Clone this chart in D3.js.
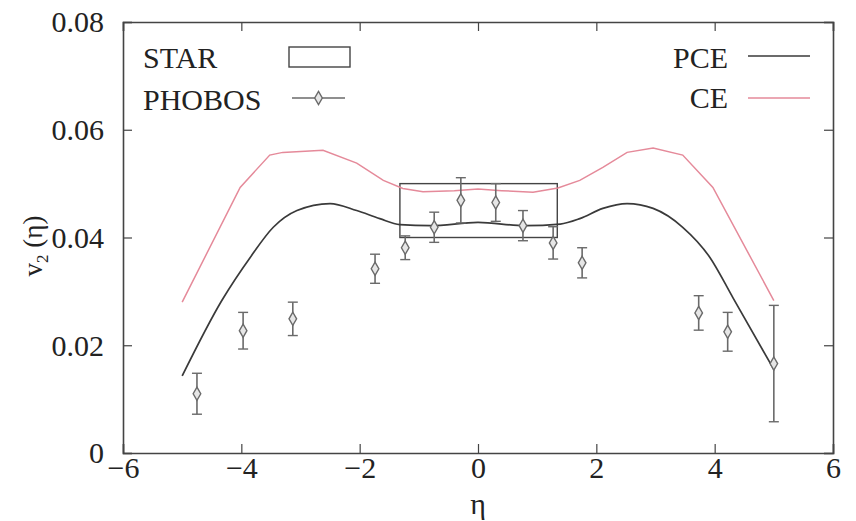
<!DOCTYPE html>
<html>
<head>
<meta charset="utf-8">
<script src="https://cdn.jsdelivr.net/npm/d3@7"></script>
<style>
  html, body { margin: 0; padding: 0; background: #fff; }
  svg { display: block; }
</style>
</head>
<body>
<svg id="chart" width="856" height="521"></svg>
<script>
// PHOBOS measurements: pseudorapidity, v2 and its error
const etaPhobos = [-4.75, -3.97, -3.13, -1.74, -1.23, -0.74, -0.29, 0.30, 0.76, 1.27, 1.76, 3.73, 4.22, 5.0];
const v2Phobos  = [0.0110, 0.0227, 0.0249, 0.0342, 0.0381, 0.0419, 0.0469, 0.0465, 0.0422, 0.0390, 0.0353, 0.0260, 0.0225, 0.0166];
const errPhobos = [0.0038, 0.0034, 0.0031, 0.0027, 0.0022, 0.0028, 0.0042, 0.0035, 0.0028, 0.0030, 0.0028, 0.0032, 0.0036, 0.0108];

// PCE model curve
const etaPCE = [-5, -4.33, -3.85, -3.46, -3.06, -2.5, -2.05, -1.66, -1.32, -0.8, 0, 0.8, 1.39, 1.72, 2.11, 2.52, 2.96, 3.46, 3.92, 4.31, 5];
const v2PCE  = [0.0143, 0.0283, 0.0363, 0.0419, 0.0450, 0.0463, 0.0450, 0.0435, 0.0424, 0.0422, 0.0428, 0.0422, 0.0425, 0.0435, 0.0454, 0.0463, 0.0454, 0.0419, 0.0363, 0.0288, 0.0155];

// CE model curve
const etaCE = [-5, -4.02, -3.52, -3.3, -2.62, -2.05, -1.6, -1.27, -0.93, -0.4, 0, 0.4, 0.93, 1.35, 1.72, 2.11, 2.52, 2.96, 3.46, 3.97, 5];
const v2CE  = [0.0280, 0.0493, 0.0553, 0.0558, 0.0562, 0.0538, 0.0506, 0.0491, 0.0485, 0.0487, 0.0490, 0.0487, 0.0484, 0.0492, 0.0506, 0.0530, 0.0558, 0.0566, 0.0553, 0.0493, 0.0283];

// STAR band: eta range and v2 range
const starEta = [-1.32, 1.34];
const starV2  = [0.040, 0.050];

// Axis ticks
const xTicks = [-6, -4, -2, 0, 2, 4, 6];
const yTicks = [0, 0.02, 0.04, 0.06, 0.08];
const yTickLabels = ["0", "0.02", "0.04", "0.06", "0.08"];

const serif = "Liberation Serif";
const svg = d3.select("#chart").style("font-family", serif);
const plotLeft = 123, plotRight = 833, plotTop = 22, plotBottom = 453;

const x = d3.scaleLinear().domain([-6, 6]).range([plotLeft, plotRight]);
const y = d3.scaleLinear().domain([0, 0.08]).range([plotBottom, plotTop]);

const axisColor = "#444";
const tickLen = 9;

// Axes with inward ticks on all four sides
const fmtX = d => d < 0 ? "\u2212" + Math.abs(d) : String(d);
const gB = svg.append("g").attr("transform", `translate(0,${plotBottom})`)
  .call(d3.axisBottom(x).tickValues(xTicks).tickSize(-tickLen).tickPadding(25).tickFormat(fmtX));
const gT = svg.append("g").attr("transform", `translate(0,${plotTop})`)
  .call(d3.axisTop(x).tickValues(xTicks).tickSize(-tickLen).tickFormat(""));
const gL = svg.append("g").attr("transform", `translate(${plotLeft},0)`)
  .call(d3.axisLeft(y).tickValues(yTicks).tickSize(-tickLen).tickPadding(tickLen + 10).tickFormat((d, i) => yTickLabels[i]));
const gR = svg.append("g").attr("transform", `translate(${plotRight},0)`)
  .call(d3.axisRight(y).tickValues(yTicks).tickSize(-tickLen).tickFormat(""));

[gB, gT, gL, gR].forEach(g => {
  g.attr("font-family", null).style("font-family", serif);
  g.select(".domain").attr("stroke", axisColor).attr("stroke-width", 1.6);
  g.selectAll(".tick line").attr("stroke", axisColor).attr("stroke-width", 1.2);
  g.selectAll(".tick text").attr("font-size", 30).attr("fill", "#222")
    .style("font-family", serif);
});
gB.selectAll(".tick text").attr("dy", 0);
gL.selectAll(".tick text").attr("dy", "0.33em");

// Axis titles
const yTitle = svg.append("text")
  .attr("transform", "translate(42,246) rotate(-90)")
  .attr("text-anchor", "middle")
  .attr("font-size", 27).attr("fill", "#222")
  .style("font-family", serif);
yTitle.append("tspan").text("v");
yTitle.append("tspan").attr("font-size", 17).attr("dy", 6).text("2");
yTitle.append("tspan").attr("dy", -6).text(" (\u03b7)");

svg.append("text")
  .attr("x", x(0)).attr("y", 514)
  .attr("text-anchor", "middle")
  .attr("font-size", 30).attr("fill", "#222")
  .style("font-family", serif)
  .text("\u03b7");

// STAR band
svg.append("rect")
  .attr("x", x(starEta[0])).attr("y", y(starV2[1]))
  .attr("width", x(starEta[1]) - x(starEta[0]))
  .attr("height", y(starV2[0]) - y(starV2[1]))
  .attr("fill", "none").attr("stroke", "#444").attr("stroke-width", 1.4);

// Model curves
const lineCE = d3.line().x(d => x(d[0])).y(d => y(d[1])).curve(d3.curveLinear);
const linePCE = d3.line().x(d => x(d[0])).y(d => y(d[1])).curve(d3.curveMonotoneX);
svg.append("path")
  .datum(d3.zip(etaCE, v2CE))
  .attr("d", lineCE).attr("fill", "none")
  .attr("stroke", "#e58a9a").attr("stroke-width", 1.5);
svg.append("path")
  .datum(d3.zip(etaPCE, v2PCE))
  .attr("d", linePCE).attr("fill", "none")
  .attr("stroke", "#3a3a3a").attr("stroke-width", 1.7);

// PHOBOS points with error bars
const pts = d3.zip(etaPhobos, v2Phobos, errPhobos);
const pColor = "#6a6a6a";
const capW = 5;
const gP = svg.append("g");
const eb = gP.selectAll("g.pt").data(pts).join("g").attr("class", "pt");
eb.append("line")
  .attr("x1", d => x(d[0])).attr("x2", d => x(d[0]))
  .attr("y1", d => y(d[1] - d[2])).attr("y2", d => y(d[1] + d[2]))
  .attr("stroke", pColor).attr("stroke-width", 1.6);
eb.append("line")
  .attr("x1", d => x(d[0]) - capW).attr("x2", d => x(d[0]) + capW)
  .attr("y1", d => y(d[1] + d[2])).attr("y2", d => y(d[1] + d[2]))
  .attr("stroke", pColor).attr("stroke-width", 1.4);
eb.append("line")
  .attr("x1", d => x(d[0]) - capW).attr("x2", d => x(d[0]) + capW)
  .attr("y1", d => y(d[1] - d[2])).attr("y2", d => y(d[1] - d[2]))
  .attr("stroke", pColor).attr("stroke-width", 1.4);
const diamond = d3.symbol().type(d3.symbolDiamond).size(50);
eb.append("path")
  .attr("d", diamond)
  .attr("transform", d => `translate(${x(d[0])},${y(d[1])})`)
  .attr("fill", "#e6e6e6").attr("stroke", pColor).attr("stroke-width", 1.4);

// Legend
const leg = svg.append("g").attr("font-size", 30).attr("fill", "#222").style("font-family", serif);
leg.append("text").attr("x", 143).attr("y", 68).style("font-family", serif).text("STAR");
leg.append("rect").attr("x", 289).attr("y", 47).attr("width", 61).attr("height", 20)
  .attr("fill", "none").attr("stroke", "#444").attr("stroke-width", 1.4);

leg.append("text").attr("x", 143).attr("y", 110).style("font-family", serif).text("PHOBOS");
leg.append("line").attr("x1", 292).attr("x2", 345).attr("y1", 98).attr("y2", 98)
  .attr("stroke", pColor).attr("stroke-width", 1.6);
leg.append("line").attr("x1", 318.5).attr("x2", 318.5).attr("y1", 93).attr("y2", 103)
  .attr("stroke", pColor).attr("stroke-width", 1.4);
leg.append("path").attr("d", diamond).attr("transform", "translate(318.5,98)")
  .attr("fill", "#e6e6e6").attr("stroke", pColor).attr("stroke-width", 1.4);

leg.append("text").attr("x", 728).attr("y", 68).attr("text-anchor", "end").style("font-family", serif).text("PCE");
leg.append("line").attr("x1", 748).attr("x2", 810).attr("y1", 56).attr("y2", 56)
  .attr("stroke", "#3a3a3a").attr("stroke-width", 1.7);

leg.append("text").attr("x", 728).attr("y", 108).attr("text-anchor", "end").style("font-family", serif).text("CE");
leg.append("line").attr("x1", 748).attr("x2", 810).attr("y1", 98).attr("y2", 98)
  .attr("stroke", "#e58a9a").attr("stroke-width", 1.5);
</script>
</body>
</html>
